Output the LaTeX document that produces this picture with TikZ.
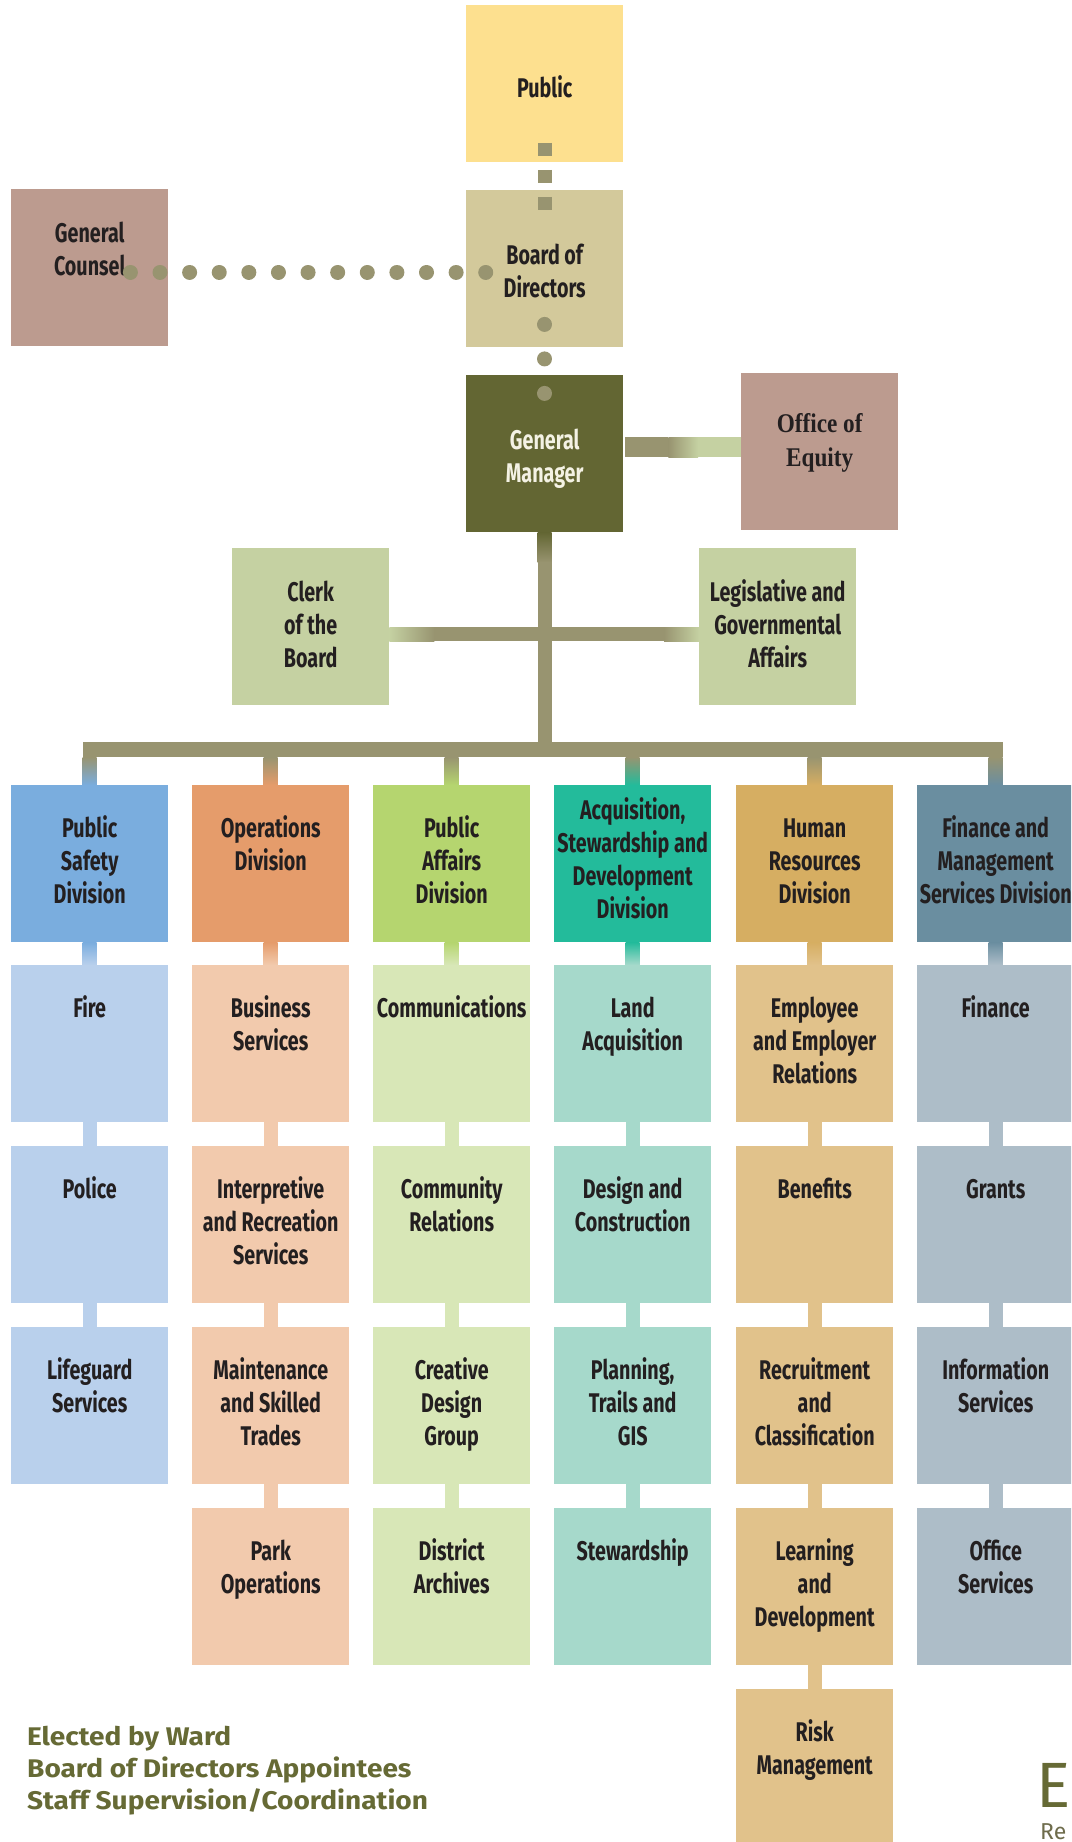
\documentclass[tikz,border=0pt]{standalone}
\usepackage{fontspec}
\usetikzlibrary{calc}

\newfontfamily\orgfont[FakeStretch=0.73]{Fira Sans}
\newfontfamily\legendfont[FakeStretch=1.1]{Fira Sans}
\newfontfamily\cornerfont{Fira Sans}
\newfontfamily\equityfont[FakeStretch=0.86]{Liberation Serif}

\definecolor{cpublic}{HTML}{FDE08F}
\definecolor{cboard}{HTML}{D3C99B}
\definecolor{cmauve}{HTML}{BC9B8F}
\definecolor{cgm}{HTML}{636633}
\definecolor{cgmtext}{HTML}{F4F2E4}
\definecolor{cstaff}{HTML}{C5D1A2}
\definecolor{cline}{HTML}{989470}
\definecolor{ctext}{HTML}{231F20}
\definecolor{cps}{HTML}{7AADDE}\definecolor{cpsl}{HTML}{B9D0EC}
\definecolor{cops}{HTML}{E59C6B}\definecolor{copsl}{HTML}{F2CAAD}
\definecolor{cpa}{HTML}{B5D56F}\definecolor{cpal}{HTML}{D8E7B7}
\definecolor{casd}{HTML}{23BB9B}\definecolor{casdl}{HTML}{A6D9CB}
\definecolor{chr}{HTML}{D6AE62}\definecolor{chrl}{HTML}{E1C28B}
\definecolor{cfm}{HTML}{6A8EA0}\definecolor{cfml}{HTML}{ADBDC8}
\definecolor{clegend}{HTML}{666A35}
\definecolor{ccorner}{HTML}{6E6C4C}

% text set from the top of a box
\newcommand{\boxlabel}[2]{\parbox[c][157pt][t]{157pt}{\centering\vspace*{#1pt}\strut#2\par}}

\tikzset{
  orgbox/.style={rectangle, inner sep=0pt, minimum width=157, minimum height=157, anchor=north west,
    fill=#1, text=ctext, font=\orgfont\bfseries\fontsize{27}{33}\selectfont},
  sqdots/.style={line width=14, color=cline, dash pattern=on 13pt off 14pt},
  rdots/.style={line width=15, color=cline, line cap=round, dash pattern=on 0.01pt off #1},
  subline/.style={line width=14, color=#1},
  legend/.style={anchor=base west, inner sep=0pt, text=clegend, font=\legendfont\bfseries\fontsize{25.5}{32}\selectfont}
}

\begin{document}
\begin{tikzpicture}[x=1pt,y=1pt,yscale=-1]
\useasboundingbox (0,0) rectangle (1071,1842);
\clip (0,0) rectangle (1071,1842);

% Top of the chart
\node[orgbox=cpublic] (public) at (466,5) {\boxlabel{69}{Public}};
\node[orgbox=cboard] (board) at (466,190) {\boxlabel{51}{Board of\\Directors}};
\node[orgbox=cmauve] (gc) at (11,189) {\boxlabel{30}{General\\Counsel}};
\node[orgbox=cgm, text=cgmtext] (gm) at (466,375) {\boxlabel{51}{General\\Manager}};
\node[orgbox=cmauve, font=\equityfont\bfseries\fontsize{27}{34}\selectfont] (equity) at (741,373) {\boxlabel{35}{Office of\\Equity}};
\node[orgbox=cstaff] (clerk) at (232,548) {\boxlabel{30}{Clerk\\of the\\Board}};
\node[orgbox=cstaff] (legis) at (699,548) {\boxlabel{30}{Legislative and\\Governmental\\Affairs}};

% Divisions
\node[orgbox=cps] (ps) at (11,785) {\boxlabel{29}{Public\\Safety\\Division}};
\node[orgbox=cops] (ops) at (192,785) {\boxlabel{29}{Operations\\Division}};
\node[orgbox=cpa] (pa) at (373,785) {\boxlabel{29}{Public\\Affairs\\Division}};
\node[orgbox=casd] (asd) at (554,785) {\boxlabel{11}{Acquisition,\\Stewardship and\\Development\\Division}};
\node[orgbox=chr] (hr) at (736,785) {\boxlabel{29}{Human\\Resources\\Division}};
\node[orgbox=cfm] (fm) at (917,785) {\boxlabel{29}{Finance and\\Management\\Services Division}};

% Public Safety
\node[orgbox=cpsl] (fire) at (11,965) {\boxlabel{29}{Fire}};
\node[orgbox=cpsl] (police) at (11,1146) {\boxlabel{29}{Police}};
\node[orgbox=cpsl] (lifeguard) at (11,1327) {\boxlabel{29}{Lifeguard\\Services}};
% Operations
\node[orgbox=copsl] (business) at (192,965) {\boxlabel{29}{Business\\Services}};
\node[orgbox=copsl] (interp) at (192,1146) {\boxlabel{29}{Interpretive\\and Recreation\\Services}};
\node[orgbox=copsl] (maint) at (192,1327) {\boxlabel{29}{Maintenance\\and Skilled\\Trades}};
\node[orgbox=copsl] (park) at (192,1508) {\boxlabel{29}{Park\\Operations}};
% Public Affairs
\node[orgbox=cpal] (comms) at (373,965) {\boxlabel{29}{Communications}};
\node[orgbox=cpal] (community) at (373,1146) {\boxlabel{29}{Community\\Relations}};
\node[orgbox=cpal] (creative) at (373,1327) {\boxlabel{29}{Creative\\Design\\Group}};
\node[orgbox=cpal] (archives) at (373,1508) {\boxlabel{29}{District\\Archives}};
% Acquisition, Stewardship and Development
\node[orgbox=casdl] (land) at (554,965) {\boxlabel{29}{Land\\Acquisition}};
\node[orgbox=casdl] (design) at (554,1146) {\boxlabel{29}{Design and\\Construction}};
\node[orgbox=casdl] (planning) at (554,1327) {\boxlabel{29}{Planning,\\Trails and\\GIS}};
\node[orgbox=casdl] (stewardship) at (554,1508) {\boxlabel{29}{Stewardship}};
% Human Resources
\node[orgbox=chrl] (employee) at (736,965) {\boxlabel{29}{Employee\\and Employer\\Relations}};
\node[orgbox=chrl] (benefits) at (736,1146) {\boxlabel{29}{Benefits}};
\node[orgbox=chrl] (recruit) at (736,1327) {\boxlabel{29}{Recruitment\\and\\Classification}};
\node[orgbox=chrl] (learning) at (736,1508) {\boxlabel{29}{Learning\\and\\Development}};
\node[orgbox=chrl] (risk) at (736,1689) {\boxlabel{29}{Risk\\Management}};
% Finance and Management Services
\node[orgbox=cfml] (finance) at (917,965) {\boxlabel{29}{Finance}};
\node[orgbox=cfml] (grants) at (917,1146) {\boxlabel{29}{Grants}};
\node[orgbox=cfml] (infosvc) at (917,1327) {\boxlabel{29}{Information\\Services}};
\node[orgbox=cfml] (officesvc) at (917,1508) {\boxlabel{29}{Office\\Services}};

% Elected / appointed links
\draw[sqdots] ($(public.south)+(0,-19.5)$) -- ($(board.north)+(0,20)$);
\draw[rdots=29.6pt] ($(gc.east)+(-38,4.5)$) -- ($(board.west)+(20,3.5)$);
\draw[rdots=34.5pt] ($(board.south)+(0,-23)$) -- ($(gm.north)+(0,18.5)$);

% General Manager to Office of Equity
\fill[cline] ($(gm.east)+(2,-16.5)$) rectangle ($(gm.east)+(45,3.5)$);
\shade[left color=cline, right color=cstaff] ($(gm.east)+(45,-16.5)$) rectangle ($(equity.west)+(-43,5.5)$);
\fill[cstaff] ($(equity.west)+(-43,-14.5)$) rectangle ($(equity.west)+(0,5.5)$);

% trunk and bus
\shade[top color=cgm, bottom color=cline] ($(gm.south)+(-7,0)$) rectangle ($(gm.south)+(7,30)$);
\fill[cline] ($(gm.south)+(-7,30)$) rectangle ($(gm.south |- ps.north)+(7,-28)$);
\fill[cline] ($(ps.north)+(-7,-43)$) rectangle ($(fm.north)+(7,-28)$);

% Clerk -- Legislative
\shade[left color=cstaff, right color=cline] ($(clerk.east)+(0,0.5)$) rectangle ($(clerk.east)+(45,14.5)$);
\fill[cline] ($(clerk.east)+(45,0.5)$) rectangle ($(legis.west)+(-35,14.5)$);
\shade[left color=cline, right color=cstaff] ($(legis.west)+(-35,0.5)$) rectangle ($(legis.west)+(0,14.5)$);

% bus to divisions
\shade[top color=cline, bottom color=cps] ($(ps.north)+(-7,-28)$) rectangle ($(ps.north)+(7,0)$);
\shade[top color=cline, bottom color=cops] ($(ops.north)+(-7,-28)$) rectangle ($(ops.north)+(7,0)$);
\shade[top color=cline, bottom color=cpa] ($(pa.north)+(-7,-28)$) rectangle ($(pa.north)+(7,0)$);
\shade[top color=cline, bottom color=casd] ($(asd.north)+(-7,-28)$) rectangle ($(asd.north)+(7,0)$);
\shade[top color=cline, bottom color=chr] ($(hr.north)+(-7,-28)$) rectangle ($(hr.north)+(7,0)$);
\shade[top color=cline, bottom color=cfm] ($(fm.north)+(-7,-28)$) rectangle ($(fm.north)+(7,0)$);

% divisions to first units
\shade[top color=cps, bottom color=cpsl] ($(ps.south)+(-7,0)$) rectangle ($(fire.north)+(7,0)$);
\shade[top color=cops, bottom color=copsl] ($(ops.south)+(-7,0)$) rectangle ($(business.north)+(7,0)$);
\shade[top color=cpa, bottom color=cpal] ($(pa.south)+(-7,0)$) rectangle ($(comms.north)+(7,0)$);
\shade[top color=casd, bottom color=casdl] ($(asd.south)+(-7,0)$) rectangle ($(land.north)+(7,0)$);
\shade[top color=chr, bottom color=chrl] ($(hr.south)+(-7,0)$) rectangle ($(employee.north)+(7,0)$);
\shade[top color=cfm, bottom color=cfml] ($(fm.south)+(-7,0)$) rectangle ($(finance.north)+(7,0)$);

% units in each column
\draw[subline=cpsl] (fire) -- (police) (police) -- (lifeguard);
\draw[subline=copsl] (business) -- (interp) (interp) -- (maint) (maint) -- (park);
\draw[subline=cpal] (comms) -- (community) (community) -- (creative) (creative) -- (archives);
\draw[subline=casdl] (land) -- (design) (design) -- (planning) (planning) -- (stewardship);
\draw[subline=chrl] (employee) -- (benefits) (benefits) -- (recruit) (recruit) -- (learning) (learning) -- (risk);
\draw[subline=cfml] (finance) -- (grants) (grants) -- (infosvc) (infosvc) -- (officesvc);

% Legend
\node[legend] (ward) at (27,1745) {Elected by Ward};
\node[legend] (appt) at (27,1777) {Board of Directors Appointees};
\node[legend] (staff) at (27,1809) {Staff Supervision/Coordination};

% cut-off text, lower right
\node[anchor=base west, inner sep=0pt, text=clegend, font=\cornerfont\fontsize{64}{64}\selectfont] (bigE) at (1036,1807) {E};
\node[anchor=base west, inner sep=0pt, text=ccorner, font=\cornerfont\fontsize{23}{23}\selectfont] (reText) at (1040,1839) {Re};

\end{tikzpicture}
\end{document}
